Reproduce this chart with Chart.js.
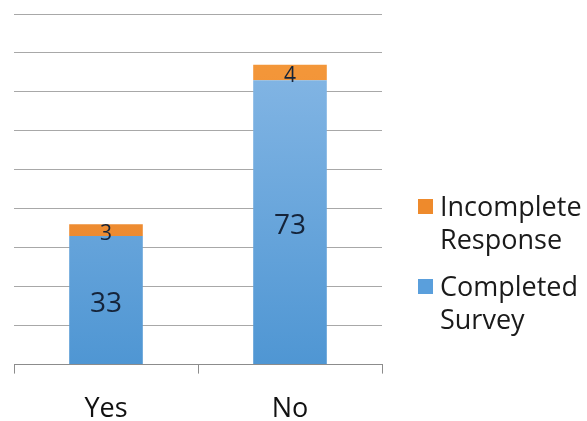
<!DOCTYPE html>
<html>
<head>
<meta charset="utf-8">
<script src="https://cdn.jsdelivr.net/npm/chart.js@4"></script>
<style>
  html, body { margin: 0; padding: 0; background: #fff; }
  #wrap { width: 587px; height: 421px; position: relative; }
</style>
</head>
<body>
<div id="wrap"><canvas id="survey"></canvas></div>
<script>
const categories = ['Yes', 'No'];
const completedSurvey = [33, 73];
const incompleteResponse = [3, 4];
const seriesNames = [['Incomplete', 'Response'], ['Completed', 'Survey']];
const yTicks = [0, 10, 20, 30, 40, 50, 60, 70, 80, 90];

const FONT = "'Open Sans', 'Noto Sans', sans-serif";

// vertical fill for a stacked segment, lighter at the top
function barFill(top, bottom) {
  return (c) => {
    const { ctx, chartArea } = c.chart;
    if (!chartArea) return bottom;
    const g = ctx.createLinearGradient(0, chartArea.top, 0, chartArea.bottom);
    g.addColorStop(0, top);
    g.addColorStop(1, bottom);
    return g;
  };
}

// value printed in the middle of each segment
const segmentLabels = {
  id: 'segmentLabels',
  afterDatasetsDraw(chart) {
    const { ctx } = chart;
    ctx.save();
    ctx.fillStyle = '#15243a';
    ctx.textAlign = 'center';
    ctx.textBaseline = 'middle';
    chart.data.datasets.forEach((ds, i) => {
      chart.getDatasetMeta(i).data.forEach((bar, j) => {
        const mid = (bar.y + bar.base) / 2;
        ctx.font = (ds.labelSize || 28) + 'px ' + FONT;
        ctx.fillText(String(ds.data[j]), bar.x, mid + (ds.labelShift || 0));
      });
    });
    ctx.restore();
  },
};

// legend on the right with two-line entries
const sideLegend = {
  id: 'sideLegend',
  afterDraw(chart) {
    const { ctx } = chart;
    const boxes = ['#ee8a2c', '#5a9fdc'];
    let y = 208;
    ctx.save();
    ctx.font = '27px ' + FONT;
    ctx.textBaseline = 'middle';
    seriesNames.forEach((lines, k) => {
      ctx.fillStyle = boxes[k];
      ctx.fillRect(418, y - 9, 15, 15);
      ctx.fillStyle = '#1a1a1a';
      lines.forEach((line, n) => {
        ctx.fillText(line, 440, y + n * 33);
      });
      y += 80;
    });
    ctx.restore();
  },
};

new Chart(document.getElementById('survey'), {
  type: 'bar',
  data: {
    labels: categories,
    datasets: [
      {
        label: 'Completed Survey',
        data: completedSurvey,
        backgroundColor: barFill('#8cbbe7', '#4f96d3'),
        labelSize: 28,
        labelShift: 4,
      },
      {
        label: 'Incomplete Response',
        data: incompleteResponse,
        backgroundColor: barFill('#f59a3c', '#e9822a'),
        labelSize: 21,
        labelShift: 4,
      },
    ],
  },
  options: {
    responsive: true,
    maintainAspectRatio: false,
    animation: false,
    layout: { padding: { left: 14, right: 205, top: 14, bottom: -25 } },
    datasets: { bar: { categoryPercentage: 1, barPercentage: 0.4, borderWidth: 0 } },
    plugins: { legend: { display: false }, tooltip: { enabled: false } },
    scales: {
      x: {
        stacked: true,
        border: { display: true, color: '#8c8c8c' },
        grid: { offset: true, drawOnChartArea: false, tickLength: 9, color: '#8c8c8c' },
        ticks: { color: '#111', font: { family: FONT, size: 27 }, padding: 20 },
      },
      y: {
        stacked: true,
        min: yTicks[0],
        max: yTicks[yTicks.length - 1],
        afterBuildTicks: (axis) => { axis.ticks = yTicks.map((v) => ({ value: v })); },
        border: { display: false },
        grid: { color: '#a8a8a8', drawTicks: false },
        ticks: { display: false },
      },
    },
  },
  plugins: [segmentLabels, sideLegend],
});
</script>
</body>
</html>
